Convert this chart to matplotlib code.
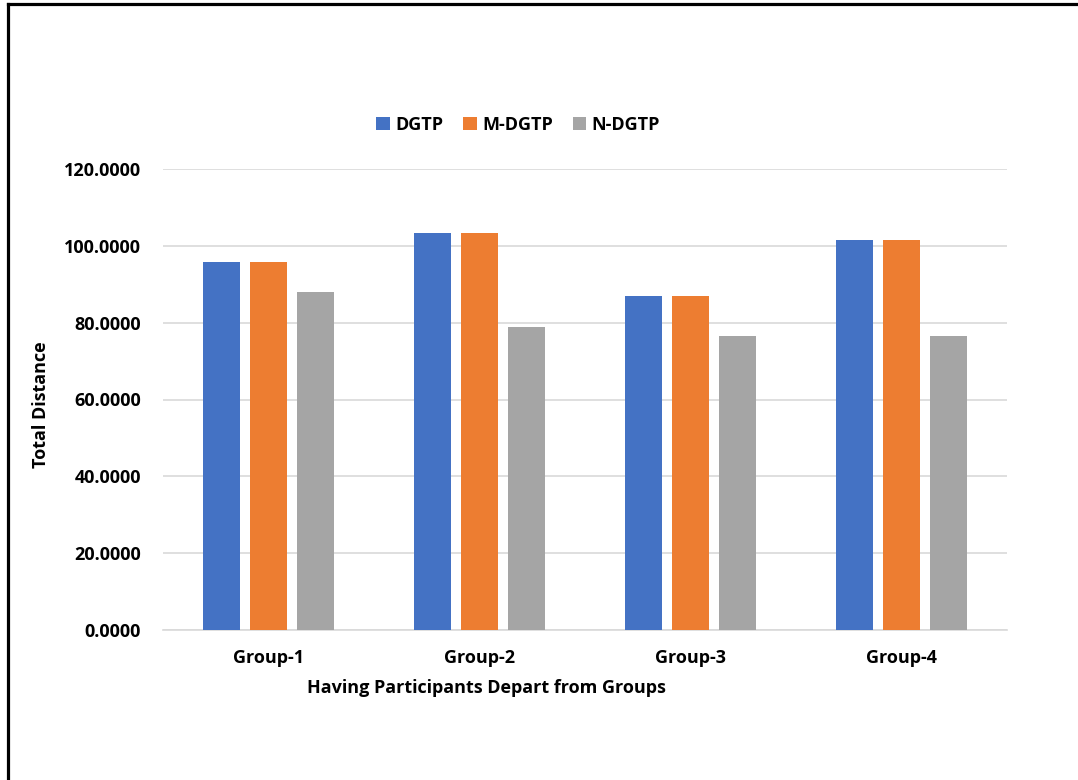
import numpy as np
import matplotlib.pyplot as plt
from matplotlib.lines import Line2D

# total distance per group for each method
groups = ['Group-1', 'Group-2', 'Group-3', 'Group-4']
dgtp = [95.9, 103.4, 87.0, 101.6]
m_dgtp = [95.9, 103.4, 87.0, 101.6]
n_dgtp = [88.1, 78.9, 76.4, 76.6]
series_names = ['DGTP', 'M-DGTP', 'N-DGTP']
colors = ['#4472C4', '#ED7D31', '#A5A5A5']
yticks = [0, 20, 40, 60, 80, 100, 120]

plt.rcParams['font.family'] = ['Open Sans', 'DejaVu Sans']
plt.rcParams['font.weight'] = 'bold'
FS = 13

W, H = 1078, 780
fig = plt.figure(figsize=(W / 100, H / 100), dpi=100)
# axes placed in pixel units
left, right, top, bottom = 163, 1007, 169, 630
ax = fig.add_axes([left / W, 1 - bottom / H, (right - left) / W, (bottom - top) / H])

x = np.arange(len(groups))
width = 0.175
step = 0.2227
for i, (vals, name, c) in enumerate(zip([dgtp, m_dgtp, n_dgtp], series_names, colors)):
    ax.bar(x + (i - 1) * step, vals, width, color=c, label=name, zorder=3)

ax.set_xlim(-0.5, len(groups) - 0.5)
ax.set_ylim(0, 120)
ax.set_yticks(yticks)
ax.set_yticklabels([f'{v:.4f}' for v in yticks], fontsize=FS, fontweight='bold')
ax.set_xticks(x)
ax.set_xticklabels(groups, fontsize=FS, fontweight='bold')
ax.tick_params(axis='both', length=0)
ax.tick_params(axis='y', pad=16)
ax.tick_params(axis='x', pad=14)

ax.grid(axis='y', color='#d9d9d9', linewidth=1.2, zorder=0)
for s in ['top', 'right', 'left']:
    ax.spines[s].set_visible(False)
ax.spines['bottom'].set_color('#d9d9d9')
ax.spines['bottom'].set_linewidth(1.2)

ax.set_xlabel('Having Participants Depart from Groups', fontsize=FS, fontweight='bold')
ax.xaxis.set_label_coords((486 - left) / (right - left), (bottom - 679) / (bottom - top))
ax.set_ylabel('Total Distance', fontsize=FS, fontweight='bold')
ax.yaxis.set_label_coords((50 - left) / (right - left), (bottom - 405) / (bottom - top))

ax.legend(loc='center', bbox_to_anchor=(518 / W, 1 - 125 / H), bbox_transform=fig.transFigure,
          ncol=3, frameon=False, handlelength=0.75, handleheight=0.75,
          handletextpad=0.3, columnspacing=1.1, prop={'weight': 'bold', 'size': FS})

# outer frame, only top and left edges
fig.add_artist(Line2D([8 / W, 8 / W], [0, 1 - 4 / H], color='black', linewidth=2.3,
                      transform=fig.transFigure))
fig.add_artist(Line2D([8 / W, 1], [1 - 4 / H, 1 - 4 / H], color='black', linewidth=2.3,
                      transform=fig.transFigure))

fig.savefig('out.png', dpi=100)
